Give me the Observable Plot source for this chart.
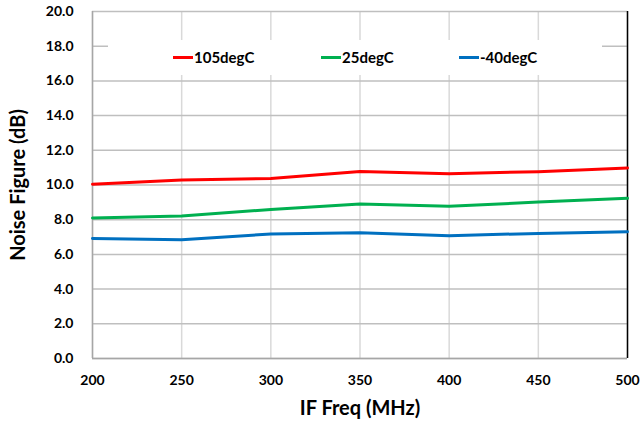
<!DOCTYPE html>
<html>
<head>
<meta charset="utf-8">
<script src="https://cdn.jsdelivr.net/npm/d3@7"></script>
<script src="https://cdn.jsdelivr.net/npm/@observablehq/plot@0.6"></script>
<style>
  html, body { margin: 0; padding: 0; background: #fff; }
  #wrap { position: relative; width: 640px; height: 427px; font-family: Lato, "Open Sans", sans-serif; }
  #legend { position: absolute; left: 108px; top: 40px; width: 494px; height: 35px; background: #fff;
            font: bold 15px Lato, "Open Sans", sans-serif; color: #000; }
  .item { position: absolute; top: 8px; display: flex; align-items: center; white-space: nowrap; }
  .swatch { width: 20px; height: 3px; margin-right: 1px; }
</style>
</head>
<body>
<div id="wrap"></div>
<script>
const freqs = [200, 250, 300, 350, 400, 450, 500];
const seriesNames = ["105degC", "25degC", "-40degC"];
const nf105 = [10.05, 10.29, 10.38, 10.78, 10.65, 10.77, 10.98];
const nf25 = [8.10, 8.21, 8.59, 8.90, 8.77, 9.02, 9.23];
const nfm40 = [6.92, 6.85, 7.18, 7.25, 7.08, 7.21, 7.31];
const colors = ["#FF0000", "#00B050", "#0070C0"];
const yTicks = [0, 2, 4, 6, 8, 10, 12, 14, 16, 18, 20];
const xTicks = [200, 250, 300, 350, 400, 450, 500];

const valuesBySeries = [nf105, nf25, nfm40];
const data = [];
seriesNames.forEach((s, i) => freqs.forEach((f, j) => data.push({series: s, freq: f, nf: valuesBySeries[i][j]})));

const chart = Plot.plot({
  width: 640,
  height: 427,
  marginLeft: 92,
  marginRight: 13,
  marginTop: 11,
  marginBottom: 69,
  style: { fontFamily: "Lato, 'Open Sans', sans-serif", fontWeight: "bold", fontSize: "14px", color: "#000", background: "#fff" },
  x: { domain: [200, 500] },
  y: { domain: [0, 20] },
  color: { domain: seriesNames, range: colors },
  marks: [
    Plot.gridX(xTicks, { stroke: "#d9d9d9", strokeOpacity: 1, strokeWidth: 1.5 }),
    Plot.gridY(yTicks, { stroke: "#bfbfbf", strokeOpacity: 1, strokeWidth: 1.5 }),
    Plot.ruleX([200], { stroke: "#a6a6a6", strokeWidth: 1.5 }),
    Plot.ruleY([0], { stroke: "#a6a6a6", strokeWidth: 1.5 }),
    Plot.ruleX([500], { stroke: "#000", strokeWidth: 1.5 }),
    Plot.axisY(yTicks, {
      tickSize: 0, tickPadding: 19, tickFormat: d => d.toFixed(1),
      label: "Noise Figure (dB)", labelAnchor: "center", labelArrow: "none", labelOffset: 82,
      fontSize: 14
    }),
    Plot.axisX(xTicks, {
      tickSize: 0, tickPadding: 17, tickFormat: d => String(d),
      label: "IF Freq (MHz)", labelAnchor: "center", labelArrow: "none", labelOffset: 56,
      fontSize: 14
    }),
    Plot.line(data, { x: "freq", y: "nf", stroke: "series", strokeWidth: 3, curve: "linear" })
  ]
});

chart.querySelectorAll("g[aria-label='y-axis label'] text, g[aria-label='x-axis label'] text").forEach(t => {
  t.style.fontSize = "20px";
});

const wrap = document.getElementById("wrap");
wrap.appendChild(chart);

const legend = document.createElement("div");
legend.id = "legend";
const lefts = [65, 213, 351];
seriesNames.forEach((s, i) => {
  const it = document.createElement("div");
  it.className = "item";
  it.style.left = lefts[i] + "px";
  const sw = document.createElement("span");
  sw.className = "swatch";
  sw.style.background = colors[i];
  const tx = document.createElement("span");
  tx.textContent = s;
  it.appendChild(sw);
  it.appendChild(tx);
  legend.appendChild(it);
});
wrap.appendChild(legend);
</script>
</body>
</html>
